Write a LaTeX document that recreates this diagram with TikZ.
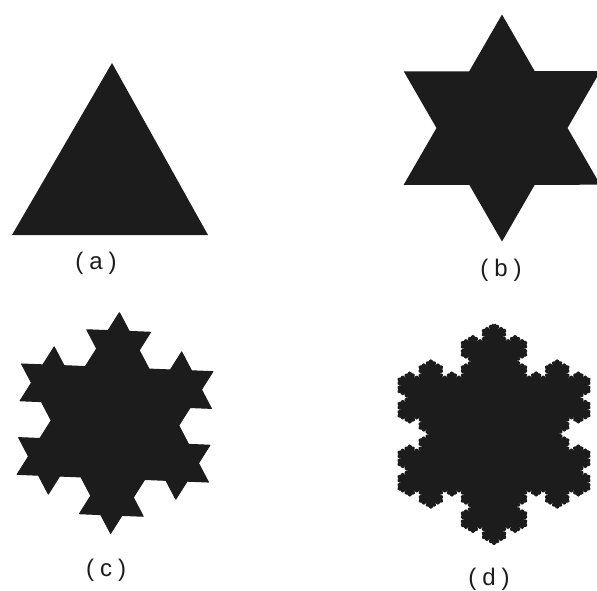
\documentclass[tikz,border=0pt]{standalone}
\usepackage{fontspec}
\setmainfont{Liberation Sans}
\usetikzlibrary{decorations.fractals}
\definecolor{ink}{HTML}{1C1C1C}
\tikzset{
  shapefill/.style={fill=ink},
  koch/.style={decoration=Koch snowflake},
  spread/.style={draw=ink, line width=#1, line join=round},
  lab/.style={font=\fontsize{24}{26}\selectfont, text=ink, inner sep=0pt}
}
\newcommand{\lsp}{\hspace{6pt}}
\begin{document}
\begin{tikzpicture}[x=1pt,y=-1pt]
\useasboundingbox (0,0) rectangle (597,590);
% (a) triangle
\coordinate (a1) at (112,63);
\coordinate (a2) at (208,235);
\coordinate (a3) at (12,235);
\fill[shapefill] (a1) -- (a2) -- (a3) -- cycle;
\node[lab] (la) at (96,263) {(\lsp a\lsp)};
% (b) level 1
\begin{scope}[shift={(502,128)}]
\fill[shapefill,koch] decorate{ (0,-113.5) -- (98.3,56.75) -- (-98.3,56.75) -- cycle };
\end{scope}
\node[lab] (lb) at (501,270) {(\lsp b\lsp)};
% (c) level 2
\begin{scope}[shift={(115,423)},rotate=-2.3]
\filldraw[shapefill,spread=1pt,koch] decorate{ decorate{ (0,-110.5) -- (95.7,55.25) -- (-95.7,55.25) -- cycle }};
\end{scope}
\node[lab] (lc) at (106,570) {(\lsp c\lsp)};
% (d) level 4
\begin{scope}[shift={(494,434)}]
\filldraw[shapefill,spread=3.5pt,koch] decorate{ decorate{ decorate{ decorate{ (0,-109.5) -- (94.8,54.75) -- (-94.8,54.75) -- cycle }}}};
\end{scope}
\node[lab] (ld) at (489,579) {(\lsp d\lsp)};
\end{tikzpicture}
\end{document}
